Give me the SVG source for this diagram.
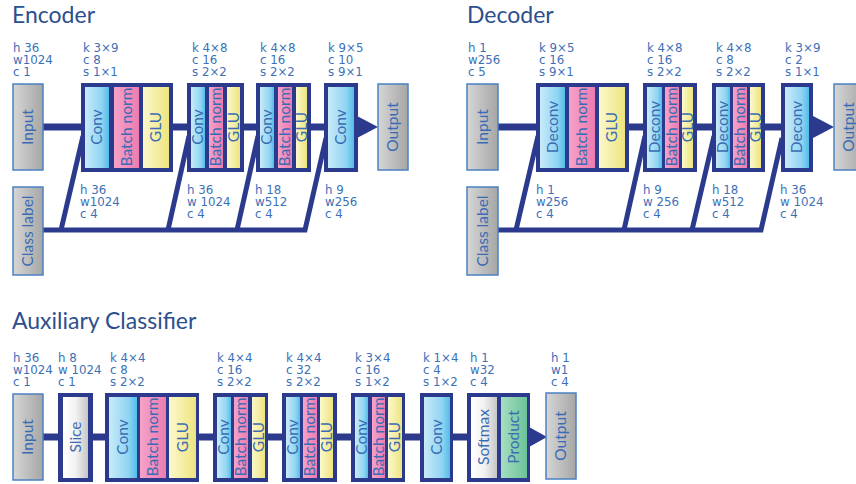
<svg xmlns="http://www.w3.org/2000/svg" width="856" height="484" viewBox="0 0 856 484">
<defs>
<linearGradient id="gGray" x1="0" y1="0" x2="1" y2="0"><stop offset="0" stop-color="#d6d6d6"/><stop offset="1" stop-color="#a6a6a6"/></linearGradient>
<linearGradient id="gBlue" x1="0" y1="0" x2="1" y2="0"><stop offset="0" stop-color="#c8ebf9"/><stop offset="0.7" stop-color="#8fd4f2"/><stop offset="1" stop-color="#52bde9"/></linearGradient>
<linearGradient id="gPink" x1="0" y1="0" x2="1" y2="0"><stop offset="0" stop-color="#f6a2c8"/><stop offset="1" stop-color="#ec7cb1"/></linearGradient>
<linearGradient id="gYellow" x1="0" y1="0" x2="1" y2="0"><stop offset="0" stop-color="#fbf8cc"/><stop offset="1" stop-color="#eee47e"/></linearGradient>
<linearGradient id="gWhite" x1="0" y1="0" x2="1" y2="0"><stop offset="0" stop-color="#ffffff"/><stop offset="0.5" stop-color="#f2f2f2"/><stop offset="1" stop-color="#c6c6c6"/></linearGradient>
<linearGradient id="gGreen" x1="0" y1="0" x2="1" y2="0"><stop offset="0" stop-color="#a6dec1"/><stop offset="1" stop-color="#6cc39a"/></linearGradient>
</defs>
<style>
.title{font-family:Lato,"Open Sans",sans-serif;font-size:23px;fill:#2d4f8e;}
.lbl{font-family:"DejaVu Sans",Verdana,sans-serif;font-size:11.8px;fill:#3c70b7;}
.bt{font-family:Lato,"Open Sans",sans-serif;font-size:15.5px;fill:#3a6cb5;text-anchor:middle;}
.frame{fill:#2c3a8e;}
.io{fill:url(#gGray);stroke:#4a80c4;stroke-width:1.5;}
.conv{fill:url(#gBlue);}
.bn{fill:url(#gPink);}
.glu{fill:url(#gYellow);}
.wht{fill:url(#gWhite);}
.grn{fill:url(#gGreen);}
.main{stroke:#2c3a8e;stroke-width:7;fill:none;}
.cls{stroke:#2c3a8e;stroke-width:5;fill:none;stroke-linejoin:miter;}
.arr{fill:#2c3a8e;}
</style>
<rect width="856" height="484" fill="#ffffff"/>

<text class="title" x="12" y="23">Encoder</text>
<text class="title" x="467" y="23">Decoder</text>
<text class="title" x="12" y="329">Auxiliary Classifier</text>

<g id="connectors">
<line class="main" x1="43" y1="127" x2="360" y2="127"/>
<path class="cls" d="M43,230 H305 L326,138"/>
<line class="cls" x1="61" y1="230" x2="83" y2="136"/>
<line class="cls" x1="168" y1="230" x2="189" y2="136"/>
<line class="cls" x1="237" y1="230" x2="258" y2="136"/>
<line class="main" x1="498" y1="127" x2="815" y2="127"/>
<path class="cls" d="M498,230 H761 L782,138"/>
<line class="cls" x1="516" y1="230" x2="538" y2="136"/>
<line class="cls" x1="624" y1="230" x2="645" y2="136"/>
<line class="cls" x1="692" y1="230" x2="714" y2="136"/>
<line class="main" x1="43" y1="437" x2="532" y2="437"/>
<polygon class="arr" points="357,116 357,138 378,127"/>
<polygon class="arr" points="813,116 813,138 834,127"/>
<polygon class="arr" points="529,427 529,447 547,437"/>
</g>

<!-- Encoder -->
<g id="enc-input"><rect class="io" x="13" y="84" width="30" height="86"/><text class="bt" transform="translate(28,127) rotate(-90)" dy="0.35em">Input</text></g>
<g id="enc-class"><rect class="io" x="13" y="187" width="30" height="88"/><text class="bt" transform="translate(28,231) rotate(-90)" dy="0.35em">Class label</text></g>
<g id="enc-b1"><rect class="frame" x="81" y="83" width="92" height="89"/>
<rect class="conv" x="85" y="87" width="24" height="81"/><rect class="bn" x="114" y="87" width="25" height="81"/><rect class="glu" x="143" y="87" width="26" height="81"/>
<text class="bt" transform="translate(97,127) rotate(-90)" dy="0.35em">Conv</text><text class="bt" transform="translate(126.5,127) rotate(-90)" dy="0.35em">Batch norm</text><text class="bt" transform="translate(156,127) rotate(-90)" dy="0.35em">GLU</text></g>
<g id="enc-b2"><rect class="frame" x="187" y="83" width="57" height="89"/>
<rect class="conv" x="191" y="87" width="14" height="81"/><rect class="bn" x="209" y="87" width="14" height="81"/><rect class="glu" x="227" y="87" width="13" height="81"/>
<text class="bt" transform="translate(198,127) rotate(-90)" dy="0.35em">Conv</text><text class="bt" transform="translate(216,127) rotate(-90)" dy="0.35em">Batch norm</text><text class="bt" transform="translate(233.5,127) rotate(-90)" dy="0.35em">GLU</text></g>
<g id="enc-b3"><rect class="frame" x="256" y="83" width="55" height="89"/>
<rect class="conv" x="260" y="87" width="14" height="81"/><rect class="bn" x="278" y="87" width="14" height="81"/><rect class="glu" x="296" y="87" width="11" height="81"/>
<text class="bt" transform="translate(267,127) rotate(-90)" dy="0.35em">Conv</text><text class="bt" transform="translate(285,127) rotate(-90)" dy="0.35em">Batch norm</text><text class="bt" transform="translate(301.5,127) rotate(-90)" dy="0.35em">GLU</text></g>
<g id="enc-b4"><rect class="frame" x="324" y="83" width="34" height="89"/>
<rect class="conv" x="328" y="87" width="26" height="81"/>
<text class="bt" transform="translate(341,127) rotate(-90)" dy="0.35em">Conv</text></g>
<g id="enc-output"><rect class="io" x="378" y="84" width="30" height="86"/><text class="bt" transform="translate(393,127) rotate(-90)" dy="0.35em">Output</text></g>

<!-- Decoder -->
<g id="dec-input"><rect class="io" x="467" y="84" width="31" height="86"/><text class="bt" transform="translate(482.5,127) rotate(-90)" dy="0.35em">Input</text></g>
<g id="dec-class"><rect class="io" x="467" y="187" width="31" height="88"/><text class="bt" transform="translate(482.5,231) rotate(-90)" dy="0.35em">Class label</text></g>
<g id="dec-b1"><rect class="frame" x="536" y="83" width="93" height="89"/>
<rect class="conv" x="540" y="87" width="25" height="81"/><rect class="bn" x="569" y="87" width="26" height="81"/><rect class="glu" x="599" y="87" width="26" height="81"/>
<text class="bt" transform="translate(552.5,127) rotate(-90)" dy="0.35em">Deconv</text><text class="bt" transform="translate(582,127) rotate(-90)" dy="0.35em">Batch norm</text><text class="bt" transform="translate(612,127) rotate(-90)" dy="0.35em">GLU</text></g>
<g id="dec-b2"><rect class="frame" x="643" y="83" width="54" height="89"/>
<rect class="conv" x="647" y="87" width="15" height="81"/><rect class="bn" x="665" y="87" width="14" height="81"/><rect class="glu" x="682" y="87" width="11" height="81"/>
<text class="bt" transform="translate(654.5,127) rotate(-90)" dy="0.35em">Deconv</text><text class="bt" transform="translate(672,127) rotate(-90)" dy="0.35em">Batch norm</text><text class="bt" transform="translate(687.5,127) rotate(-90)" dy="0.35em">GLU</text></g>
<g id="dec-b3"><rect class="frame" x="712" y="83" width="53" height="89"/>
<rect class="conv" x="716" y="87" width="14" height="81"/><rect class="bn" x="733" y="87" width="14" height="81"/><rect class="glu" x="750" y="87" width="11" height="81"/>
<text class="bt" transform="translate(723,127) rotate(-90)" dy="0.35em">Deconv</text><text class="bt" transform="translate(740,127) rotate(-90)" dy="0.35em">Batch norm</text><text class="bt" transform="translate(755.5,127) rotate(-90)" dy="0.35em">GLU</text></g>
<g id="dec-b4"><rect class="frame" x="781" y="83" width="32" height="89"/>
<rect class="conv" x="785" y="87" width="24" height="81"/>
<text class="bt" transform="translate(797,127) rotate(-90)" dy="0.35em">Deconv</text></g>
<g id="dec-output"><rect class="io" x="834" y="84" width="30" height="86"/><text class="bt" transform="translate(849,127) rotate(-90)" dy="0.35em">Output</text></g>

<!-- Auxiliary classifier -->
<g id="aux-input"><rect class="io" x="13" y="394" width="30" height="86"/><text class="bt" transform="translate(28,437) rotate(-90)" dy="0.35em">Input</text></g>
<g id="aux-slice"><rect class="frame" x="58" y="393" width="35" height="89"/>
<rect class="wht" x="63" y="397" width="25" height="81"/>
<text class="bt" transform="translate(75.5,437) rotate(-90)" dy="0.35em">Slice</text></g>
<g id="aux-b1"><rect class="frame" x="105" y="393" width="94" height="89"/>
<rect class="conv" x="109" y="397" width="28" height="81"/><rect class="bn" x="140" y="397" width="26" height="81"/><rect class="glu" x="169" y="397" width="27" height="81"/>
<text class="bt" transform="translate(123,437) rotate(-90)" dy="0.35em">Conv</text><text class="bt" transform="translate(153,437) rotate(-90)" dy="0.35em">Batch norm</text><text class="bt" transform="translate(182.5,437) rotate(-90)" dy="0.35em">GLU</text></g>
<g id="aux-b2"><rect class="frame" x="213" y="393" width="55" height="89"/>
<rect class="conv" x="217" y="397" width="14" height="81"/><rect class="bn" x="234" y="397" width="14" height="81"/><rect class="glu" x="252" y="397" width="13" height="81"/>
<text class="bt" transform="translate(224,437) rotate(-90)" dy="0.35em">Conv</text><text class="bt" transform="translate(241,437) rotate(-90)" dy="0.35em">Batch norm</text><text class="bt" transform="translate(258.5,437) rotate(-90)" dy="0.35em">GLU</text></g>
<g id="aux-b3"><rect class="frame" x="282" y="393" width="55" height="89"/>
<rect class="conv" x="286" y="397" width="14" height="81"/><rect class="bn" x="303" y="397" width="14" height="81"/><rect class="glu" x="320" y="397" width="13" height="81"/>
<text class="bt" transform="translate(293,437) rotate(-90)" dy="0.35em">Conv</text><text class="bt" transform="translate(310,437) rotate(-90)" dy="0.35em">Batch norm</text><text class="bt" transform="translate(326.5,437) rotate(-90)" dy="0.35em">GLU</text></g>
<g id="aux-b4"><rect class="frame" x="351" y="393" width="54" height="89"/>
<rect class="conv" x="355" y="397" width="13" height="81"/><rect class="bn" x="372" y="397" width="13" height="81"/><rect class="glu" x="388" y="397" width="14" height="81"/>
<text class="bt" transform="translate(361.5,437) rotate(-90)" dy="0.35em">Conv</text><text class="bt" transform="translate(378.5,437) rotate(-90)" dy="0.35em">Batch norm</text><text class="bt" transform="translate(395,437) rotate(-90)" dy="0.35em">GLU</text></g>
<g id="aux-b5"><rect class="frame" x="420" y="393" width="33" height="89"/>
<rect class="conv" x="424" y="397" width="26" height="81"/>
<text class="bt" transform="translate(437,437) rotate(-90)" dy="0.35em">Conv</text></g>
<g id="aux-b6"><rect class="frame" x="467" y="393" width="63" height="89"/>
<rect class="wht" x="471" y="397" width="26" height="81"/><rect class="grn" x="501" y="397" width="26" height="81"/>
<text class="bt" transform="translate(484,437) rotate(-90)" dy="0.35em">Softmax</text><text class="bt" transform="translate(514,437) rotate(-90)" dy="0.35em">Product</text></g>
<g id="aux-output"><rect class="io" x="546" y="393" width="30" height="86"/><text class="bt" transform="translate(561,436) rotate(-90)" dy="0.35em">Output</text></g>

<g id="labels">
<text class="lbl" x="13" y="52"><tspan x="13">h 36</tspan><tspan x="13" dy="12">w1024</tspan><tspan x="13" dy="12">c 1</tspan></text>
<text class="lbl" x="83" y="52"><tspan x="83">k 3×9</tspan><tspan x="83" dy="12">c 8</tspan><tspan x="83" dy="12">s 1×1</tspan></text>
<text class="lbl" x="192" y="52"><tspan x="192">k 4×8</tspan><tspan x="192" dy="12">c 16</tspan><tspan x="192" dy="12">s 2×2</tspan></text>
<text class="lbl" x="260" y="52"><tspan x="260">k 4×8</tspan><tspan x="260" dy="12">c 16</tspan><tspan x="260" dy="12">s 2×2</tspan></text>
<text class="lbl" x="328" y="52"><tspan x="328">k 9×5</tspan><tspan x="328" dy="12">c 10</tspan><tspan x="328" dy="12">s 9×1</tspan></text>
<text class="lbl" x="80" y="194"><tspan x="80">h 36</tspan><tspan x="80" dy="12">w1024</tspan><tspan x="80" dy="12">c 4</tspan></text>
<text class="lbl" x="187" y="194"><tspan x="187">h 36</tspan><tspan x="187" dy="12">w 1024</tspan><tspan x="187" dy="12">c 4</tspan></text>
<text class="lbl" x="255" y="194"><tspan x="255">h 18</tspan><tspan x="255" dy="12">w512</tspan><tspan x="255" dy="12">c 4</tspan></text>
<text class="lbl" x="325" y="194"><tspan x="325">h 9</tspan><tspan x="325" dy="12">w256</tspan><tspan x="325" dy="12">c 4</tspan></text>

<text class="lbl" x="468" y="52"><tspan x="468">h 1</tspan><tspan x="468" dy="12">w256</tspan><tspan x="468" dy="12">c 5</tspan></text>
<text class="lbl" x="539" y="52"><tspan x="539">k 9×5</tspan><tspan x="539" dy="12">c 16</tspan><tspan x="539" dy="12">s 9×1</tspan></text>
<text class="lbl" x="647" y="52"><tspan x="647">k 4×8</tspan><tspan x="647" dy="12">c 16</tspan><tspan x="647" dy="12">s 2×2</tspan></text>
<text class="lbl" x="716" y="52"><tspan x="716">k 4×8</tspan><tspan x="716" dy="12">c 8</tspan><tspan x="716" dy="12">s 2×2</tspan></text>
<text class="lbl" x="785" y="52"><tspan x="785">k 3×9</tspan><tspan x="785" dy="12">c 2</tspan><tspan x="785" dy="12">s 1×1</tspan></text>
<text class="lbl" x="536" y="194"><tspan x="536">h 1</tspan><tspan x="536" dy="12">w256</tspan><tspan x="536" dy="12">c 4</tspan></text>
<text class="lbl" x="643" y="194"><tspan x="643">h 9</tspan><tspan x="643" dy="12">w 256</tspan><tspan x="643" dy="12">c 4</tspan></text>
<text class="lbl" x="712" y="194"><tspan x="712">h 18</tspan><tspan x="712" dy="12">w512</tspan><tspan x="712" dy="12">c 4</tspan></text>
<text class="lbl" x="780" y="194"><tspan x="780">h 36</tspan><tspan x="780" dy="12">w 1024</tspan><tspan x="780" dy="12">c 4</tspan></text>

<text class="lbl" x="13" y="362"><tspan x="13">h 36</tspan><tspan x="13" dy="12">w1024</tspan><tspan x="13" dy="12">c 1</tspan></text>
<text class="lbl" x="58" y="362"><tspan x="58">h 8</tspan><tspan x="58" dy="12">w 1024</tspan><tspan x="58" dy="12">c 1</tspan></text>
<text class="lbl" x="110" y="362"><tspan x="110">k 4×4</tspan><tspan x="110" dy="12">c 8</tspan><tspan x="110" dy="12">s 2×2</tspan></text>
<text class="lbl" x="217" y="362"><tspan x="217">k 4×4</tspan><tspan x="217" dy="12">c 16</tspan><tspan x="217" dy="12">s 2×2</tspan></text>
<text class="lbl" x="286" y="362"><tspan x="286">k 4×4</tspan><tspan x="286" dy="12">c 32</tspan><tspan x="286" dy="12">s 2×2</tspan></text>
<text class="lbl" x="355" y="362"><tspan x="355">k 3×4</tspan><tspan x="355" dy="12">c 16</tspan><tspan x="355" dy="12">s 1×2</tspan></text>
<text class="lbl" x="423" y="362"><tspan x="423">k 1×4</tspan><tspan x="423" dy="12">c 4</tspan><tspan x="423" dy="12">s 1×2</tspan></text>
<text class="lbl" x="470" y="362"><tspan x="470">h 1</tspan><tspan x="470" dy="12">w32</tspan><tspan x="470" dy="12">c 4</tspan></text>
<text class="lbl" x="551" y="362"><tspan x="551">h 1</tspan><tspan x="551" dy="12">w1</tspan><tspan x="551" dy="12">c 4</tspan></text>
</g>
</svg>
